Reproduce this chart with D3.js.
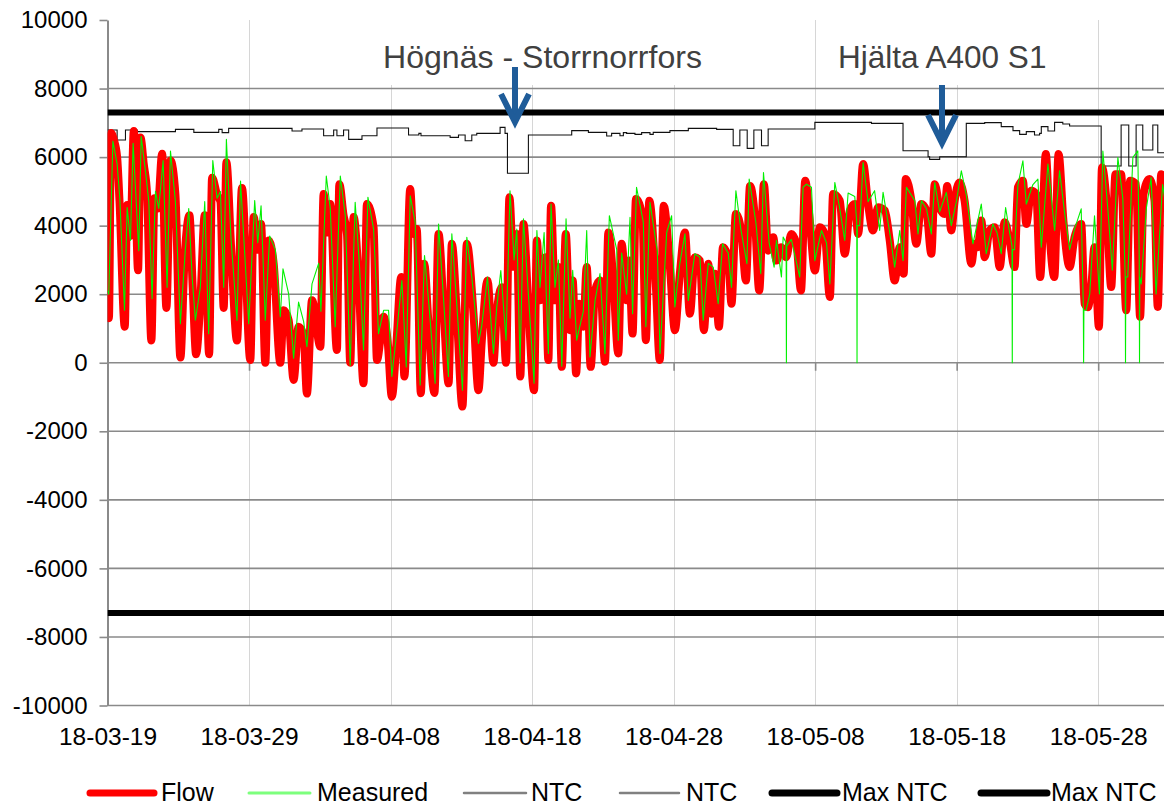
<!DOCTYPE html>
<html><head><meta charset="utf-8">
<script src="https://cdn.jsdelivr.net/npm/d3@7"></script>
<style>
html,body{margin:0;padding:0;background:#fff;}
text{font-family:"Liberation Sans",Arial,sans-serif;}
</style></head>
<body><svg id="chart" width="1164" height="805"></svg>
<script>
// ---------- data (days since 2018-03-19, MW) ----------
const tickDays = [0,10,20,30,40,50,60,70];
const tickLabels = ["18-03-19","18-03-29","18-04-08","18-04-18","18-04-28","18-05-08","18-05-18","18-05-28"];
const yTicks = [-10000,-8000,-6000,-4000,-2000,0,2000,4000,6000,8000,10000];
const gridVals = [-10000,-8000,-6000,-4000,-2000,0,2000,4000,6000,8000];
const maxNtc = [7300,-7300];

const flow = [[0,1500],[0.10,1300],[0.25,6700],[0.45,6500],[0.68,6000],[0.85,4700],[1.22,1050],[1.39,4600],[1.62,3700],[1.86,6760],[2.16,2700],[2.33,6570],[2.56,5800],[2.80,4900],[3.10,650],[3.32,4800],[3.55,4500],[3.86,6100],[4.16,1600],[4.45,5900],[4.80,4900],[5.15,150],[5.44,3000],[5.79,4300],[6.02,2200],[6.26,250],[6.56,1800],[6.87,4300],[7.18,250],[7.39,5400],[7.74,4900],[7.98,4700],[8.21,1600],[8.40,5850],[8.73,3400],[9.15,650],[9.50,5100],[10.09,80],[10.33,4250],[10.61,3300],[10.85,4050],[11.15,0],[11.39,3570],[11.74,2900],[12.21,0],[12.45,1530],[12.80,1240],[13.15,-500],[13.50,1050],[13.86,800],[14.09,-900],[14.45,1820],[15.04,470],[15.27,4920],[15.55,3800],[15.74,4630],[16.21,370],[16.38,5210],[16.68,4300],[16.92,3760],[17.15,0],[17.39,4250],[17.74,2500],[18.09,-600],[18.33,4630],[18.80,3950],[19.04,80],[19.51,1340],[19.80,600],[20.09,-990],[20.40,470],[20.75,2500],[20.98,-400],[21.39,5070],[21.60,3760],[21.85,3900],[22.14,-890],[22.38,2890],[22.68,1140],[23.10,-880],[23.39,3760],[23.74,1630],[24.10,-600],[24.33,3470],[24.68,1430],[25.08,-1280],[25.39,3470],[25.86,1430],[26.21,-800],[26.45,660],[26.85,2400],[27.27,0],[27.50,1430],[27.86,2200],[28.16,0],[28.40,4830],[28.68,2800],[28.92,3760],[29.17,-400],[29.39,4050],[29.74,1630],[30.14,-800],[30.34,3570],[30.56,1820],[30.92,3080],[31.15,80],[31.34,4580],[31.62,1820],[31.86,2790],[32.10,-120],[32.38,3760],[32.68,950],[32.87,2400],[33.11,-310],[33.34,1720],[33.62,1050],[33.86,2790],[34.14,-120],[34.45,2110],[34.80,2400],[35.15,30],[35.39,3800],[35.74,2400],[36.09,270],[36.33,3470],[36.68,1820],[36.85,2980],[37.10,850],[37.34,4780],[37.80,4240],[38.04,660],[38.28,4730],[38.75,2210],[39.02,80],[39.30,4580],[39.74,2790],[40.09,950],[40.44,2600],[40.80,3800],[41.15,1430],[41.50,3080],[41.86,2980],[42.14,950],[42.45,2890],[42.68,1430],[42.92,2600],[43.20,1050],[43.49,3370],[43.86,3080],[44.09,1720],[44.40,4340],[44.80,3760],[45.11,2400],[45.40,5160],[45.74,4240],[46.05,2110],[46.38,5210],[46.68,3270],[47.04,3660],[47.27,2980],[47.60,3370],[47.96,3080],[48.32,3760],[48.68,3470],[49.00,2110],[49.30,5310],[49.62,4150],[49.98,2690],[50.33,3950],[50.68,3760],[51.04,1920],[51.27,4920],[51.74,4730],[52.09,3180],[52.45,4440],[52.80,4630],[53.04,3760],[53.39,5800],[53.74,4630],[54.09,3860],[54.45,4540],[54.92,4440],[55.27,3570],[55.62,2400],[55.98,3370],[56.26,2600],[56.40,5360],[56.80,4730],[57.15,3470],[57.50,4630],[57.86,4440],[58.21,3180],[58.45,5210],[58.80,4530],[59.15,4340],[59.33,5160],[59.62,3860],[59.86,4730],[60.20,5260],[60.56,4730],[61.04,2890],[61.27,3470],[61.50,3370],[61.74,4150],[61.98,3080],[62.33,3860],[62.68,3950],[63.04,2790],[63.39,4100],[63.74,3570],[64.09,2790],[64.33,5120],[64.68,5310],[64.92,4050],[65.27,5020],[65.62,4920],[65.90,2500],[66.30,6090],[66.60,3570],[66.90,2500],[67.20,6090],[67.55,4100],[67.98,2790],[68.33,3660],[68.80,4050],[69.04,1720],[69.27,1620],[69.51,2210],[69.74,3370],[70.05,1050],[70.27,5700],[70.58,4730],[70.92,2210],[71.22,5500],[71.62,5500],[71.98,1530],[72.26,5310],[72.68,5210],[72.96,1340],[73.20,4920],[73.62,5360],[73.98,4730],[74.21,1630],[74.45,5500],[74.70,5400]];

const measured = [[0,2100],[0.09,2000],[0.38,6470],[0.68,5800],[0.87,4800],[1.2,1530],[1.39,4530],[1.62,3570],[1.81,6400],[2.21,3270],[2.38,6600],[2.68,5600],[2.92,4700],[3.15,1870],[3.39,5000],[3.62,4500],[3.93,5900],[4.21,2200],[4.45,6180],[4.8,4700],[5.15,1140],[5.5,3300],[5.74,4500],[5.98,2500],[6.21,1240],[6.56,2200],[6.87,4700],[7.15,850],[7.44,5900],[7.74,4800],[7.98,5000],[8.21,2200],[8.4,6520],[8.73,3600],[9.15,1240],[9.4,5300],[9.98,1140],[10.4,4730],[10.62,3500],[10.85,4580],[11.15,1240],[11.46,3700],[11.86,3300],[12.21,1340],[12.4,2740],[12.8,2010],[13.15,130],[13.5,1770],[13.86,1200],[14.09,470],[14.45,2300],[14.92,2900],[15.08,1500],[15.46,5450],[15.74,4500],[16.09,1050],[16.45,5450],[16.8,4300],[17.15,-70],[17.5,4680],[17.81,2800],[18.09,370],[18.4,4830],[18.8,3900],[19.15,850],[19.51,1530],[19.86,1530],[20.09,-400],[20.44,900],[20.8,2400],[21.11,-120],[21.39,4870],[21.74,4100],[22.09,-650],[22.4,3130],[22.75,1500],[23.15,-600],[23.39,4050],[23.74,1900],[24.09,-400],[24.33,3760],[24.68,1700],[25.08,-800],[25.39,3660],[25.74,2500],[26.21,560],[26.45,1100],[26.85,2500],[27.27,270],[27.5,1600],[27.79,2690],[28.16,660],[28.44,5020],[28.73,3000],[28.92,3900],[29.15,0],[29.39,4200],[29.74,2000],[30.14,-600],[30.34,3860],[30.56,2200],[30.85,3800],[31.15,270],[31.34,4630],[31.62,2200],[31.86,3000],[32.1,-100],[32.4,4200],[32.68,1300],[32.87,2700],[33.15,660],[33.62,1500],[33.86,3860],[34.09,170],[34.45,1820],[34.8,2600],[35.15,270],[35.46,4290],[35.98,3300],[36.09,660],[36.33,3200],[36.68,2000],[36.92,4240],[37.1,1430],[37.38,5120],[37.86,4100],[38.04,1050],[38.33,4680],[38.85,3250],[39.04,270],[39.51,3800],[39.86,4290],[40.09,1630],[40.44,2900],[40.8,3760],[41.04,1820],[41.5,3180],[41.86,3080],[42.09,1240],[42.45,2900],[42.8,2790],[43.15,1720],[43.46,3470],[43.86,3200],[44.09,2200],[44.4,5020],[44.75,3900],[45.18,2890],[45.34,5360],[45.81,4100],[46.16,2600],[46.35,5550],[46.75,3500],[47.1,2790],[47.27,3570],[47.62,2500],[47.74,3670],[47.95,3500],[47.97,0],[47.99,3400],[48.32,3600],[48.91,2500],[49.15,5120],[49.39,5210],[49.74,5120],[49.98,2980],[50.45,3860],[50.8,3500],[51.04,2300],[51.39,5260],[51.74,4500],[52.09,3570],[52.33,4950],[52.8,4850],[52.94,4100],[52.96,0],[52.98,4000],[53.15,4000],[53.39,5840],[53.74,4700],[54.2,5020],[54.56,3860],[54.8,4970],[55.27,3800],[55.62,2790],[55.98,3860],[56.21,2980],[56.45,5120],[57.04,4730],[57.27,3760],[57.51,4730],[57.86,4500],[58.21,3760],[58.45,5260],[58.8,4400],[59.27,4970],[59.62,4000],[59.98,4700],[60.33,5600],[60.68,4900],[61.15,3470],[61.74,4630],[62.09,3180],[62.56,4050],[62.85,3800],[63.15,3180],[63.46,4530],[63.74,3800],[63.91,3400],[63.93,0],[63.95,3300],[64.09,3300],[64.33,5200],[64.68,5890],[64.92,4630],[65.39,5200],[65.74,5360],[65.98,3370],[66.45,5800],[66.92,3860],[67.27,5600],[67.62,4400],[67.98,3300],[68.33,3900],[68.8,4490],[68.95,1600],[68.97,0],[68.99,1530],[69.15,1530],[69.4,2000],[69.74,4290],[70.09,2010],[70.33,6180],[70.68,4500],[71.0,2700],[71.39,5990],[71.74,4800],[71.91,2500],[71.93,0],[71.95,2500],[72.09,2500],[72.45,5990],[72.8,6180],[72.9,3000],[72.92,0],[72.94,2500],[73.04,2300],[73.4,4500],[73.74,5400],[74.09,2010],[74.55,5200],[74.7,4800]];

const ntc = [[0,6790],[0.68,6500],[1.27,6790],[2.1,6742],[4.8,6810],[6.1,6722],[7.86,6810],[8.1,6713],[8.56,6839],[13.04,6761],[13.74,6820],[15.27,6625],[15.98,6790],[16.21,6625],[16.68,6790],[17.04,6518],[17.98,6625],[19.04,6850],[21.27,6644],[22.0,6693],[22.15,6625],[24.21,6576],[24.8,6644],[25.27,6479],[25.74,6644],[26.09,6693],[27.74,6868],[28.09,6693],[28.26,5527],[29.74,6644],[32.8,6771],[33.98,6722],[35.27,6615],[35.62,6693],[36.21,6625],[36.45,6713],[36.68,6693],[37.27,6664],[37.74,6713],[38.33,6664],[38.56,6722],[39.74,6771],[41.04,6839],[43.04,6810],[44.21,6333],[44.68,6790],[45.2,6255],[45.67,6790],[46.21,6333],[46.68,6820],[49.98,7014],[53.98,6985],[56.21,6187],[57.98,6012],[58.09,5935],[58.8,6012],[60.68,6985],[61.98,7005],[63.15,6888],[63.98,6771],[64.45,6664],[64.92,6742],[65.5,6644],[65.86,6693],[65.98,6888],[66.45,6761],[66.92,7014],[67.5,6965],[67.98,6907],[70.21,5741],[71.62,6936],[72.16,5741],[72.68,6936],[73.15,6207],[73.86,6936],[74.21,6129],[74.7,6129]];

const annotations = ["Högnäs - Storrnorrfors","Hjälta A400 S1"];
const legendItems = [
  {label:"Flow", color:"#ff0000", w:7, x1:90, x2:154, tx:161},
  {label:"Measured", color:"#7dff7d", w:3, x1:249, x2:310, tx:317},
  {label:"NTC", color:"#808080", w:2.5, x1:464, x2:526, tx:531},
  {label:"NTC", color:"#808080", w:2.5, x1:620, x2:679, tx:686},
  {label:"Max NTC", color:"#000000", w:7, x1:772, x2:837, tx:842},
  {label:"Max NTC", color:"#000000", w:7, x1:981, x2:1047, tx:1051}
];

// ---------- drawing ----------
const svg = d3.select("#chart");
const L = 107.5, R = 1164, T = 20, B = 705.5;
const x = d3.scaleLinear().domain([0, 74.65]).range([L, R]);
const y = d3.scaleLinear().domain([-10000, 10000]).range([B, T]);

svg.append("rect").attr("width",1164).attr("height",805).attr("fill","#fff");
svg.append("defs").append("clipPath").attr("id","clip")
  .append("rect").attr("x",L).attr("y",T-5).attr("width",R-L).attr("height",B-T+10);

// vertical gridlines
svg.append("g").selectAll("line").data(tickDays.filter(d=>d>0)).join("line")
  .attr("x1",d=>Math.round(x(d))+0.5).attr("x2",d=>Math.round(x(d))+0.5)
  .attr("y1",T).attr("y2",B).attr("stroke","#d6d6d6").attr("stroke-width",1);

// white annotation boxes (cover vertical gridlines)
svg.append("rect").attr("x",375).attr("y",T).attr("width",337).attr("height",65).attr("fill","#fff");
svg.append("rect").attr("x",828).attr("y",T).attr("width",228).attr("height",65).attr("fill","#fff");

// horizontal gridlines
svg.append("g").selectAll("line").data(gridVals).join("line")
  .attr("x1",L).attr("x2",R).attr("y1",d=>y(d)).attr("y2",d=>y(d))
  .attr("stroke","#8a8a8a").attr("stroke-width",1.6);

// zero axis ticks
const zeroAxis = svg.append("g").attr("transform",`translate(0,${y(0)})`)
  .call(d3.axisBottom(x).tickValues(tickDays).tickSize(8).tickSizeOuter(0).tickFormat(""));
zeroAxis.select(".domain").remove();
zeroAxis.selectAll(".tick line").attr("stroke","#8a8a8a").attr("stroke-width",1.6);

// bottom labels
const botAxis = svg.append("g").attr("transform",`translate(0,${B})`)
  .call(d3.axisBottom(x).tickValues(tickDays).tickSize(0).tickPadding(22).tickFormat((d,i)=>tickLabels[i]));
botAxis.select(".domain").remove();
botAxis.selectAll("text").attr("font-size",24.5).attr("fill","#000")
  .attr("font-family","Liberation Sans, Arial, sans-serif");

// y axis
const yAxis = svg.append("g").attr("transform",`translate(${L},0)`)
  .call(d3.axisLeft(y).tickValues(yTicks).tickSize(8).tickSizeOuter(0).tickPadding(12).tickFormat(d=>String(d)));
yAxis.select(".domain").attr("stroke","#8a8a8a").attr("stroke-width",2);
yAxis.selectAll(".tick line").attr("stroke","#8a8a8a").attr("stroke-width",1.6);
yAxis.selectAll("text").attr("font-size",24).attr("fill","#000")
  .attr("font-family","Liberation Sans, Arial, sans-serif");

const plot = svg.append("g").attr("clip-path","url(#clip)");

// max NTC lines
plot.selectAll(".maxntc").data(maxNtc).join("line").attr("class","maxntc")
  .attr("x1",L).attr("x2",R).attr("y1",d=>y(d)).attr("y2",d=>y(d))
  .attr("stroke","#000").attr("stroke-width",6);

plot.append("path").datum(ntc)
  .attr("d", d3.line().x(d=>x(d[0])).y(d=>y(d[1])).curve(d3.curveStepAfter))
  .attr("fill","none").attr("stroke","#111").attr("stroke-width",1.1);

plot.append("path").datum(flow)
  .attr("d", d3.line().x(d=>x(d[0])).y(d=>y(d[1])).curve(d3.curveMonotoneX))
  .attr("fill","none").attr("stroke","#ff0000").attr("stroke-width",8)
  .attr("stroke-linejoin","round").attr("stroke-linecap","round");

plot.append("path").datum(measured)
  .attr("d", d3.line().x(d=>x(d[0])).y(d=>y(d[1])))
  .attr("fill","none").attr("stroke","#00f000").attr("stroke-width",1.1)
  .attr("stroke-linejoin","round");

// arrows
const arrowColor = "#1f5c99";
function arrow(cx, yTop, yTip, headW, headH){
  const g = svg.append("g").attr("stroke",arrowColor).attr("stroke-width",6).attr("fill","none");
  g.append("line").attr("x1",cx).attr("x2",cx).attr("y1",yTop).attr("y2",yTip-3);
  g.append("path").attr("d",`M${cx-headW},${yTip-headH} L${cx},${yTip} L${cx+headW},${yTip-headH}`)
    .attr("stroke-linejoin","miter");
}
arrow(515, 67, 122, 14, 28);
arrow(942, 85, 143, 14, 28);

// annotation texts
svg.append("text").attr("x",383).attr("y",68).attr("font-size",32).attr("fill","#404040")
  .attr("textLength",319).attr("lengthAdjust","spacingAndGlyphs").text(annotations[0]);
svg.append("text").attr("x",838).attr("y",68).attr("font-size",31.5).attr("fill","#404040")
  .text(annotations[1]);

// legend
const lg = svg.append("g");
legendItems.forEach(it=>{
  lg.append("line").attr("x1",it.x1).attr("x2",it.x2).attr("y1",793).attr("y2",793)
    .attr("stroke",it.color).attr("stroke-width",it.w).attr("stroke-linecap","round");
  lg.append("text").attr("x",it.tx).attr("y",801).attr("font-size",25).attr("fill","#000").text(it.label);
});
</script></body></html>
